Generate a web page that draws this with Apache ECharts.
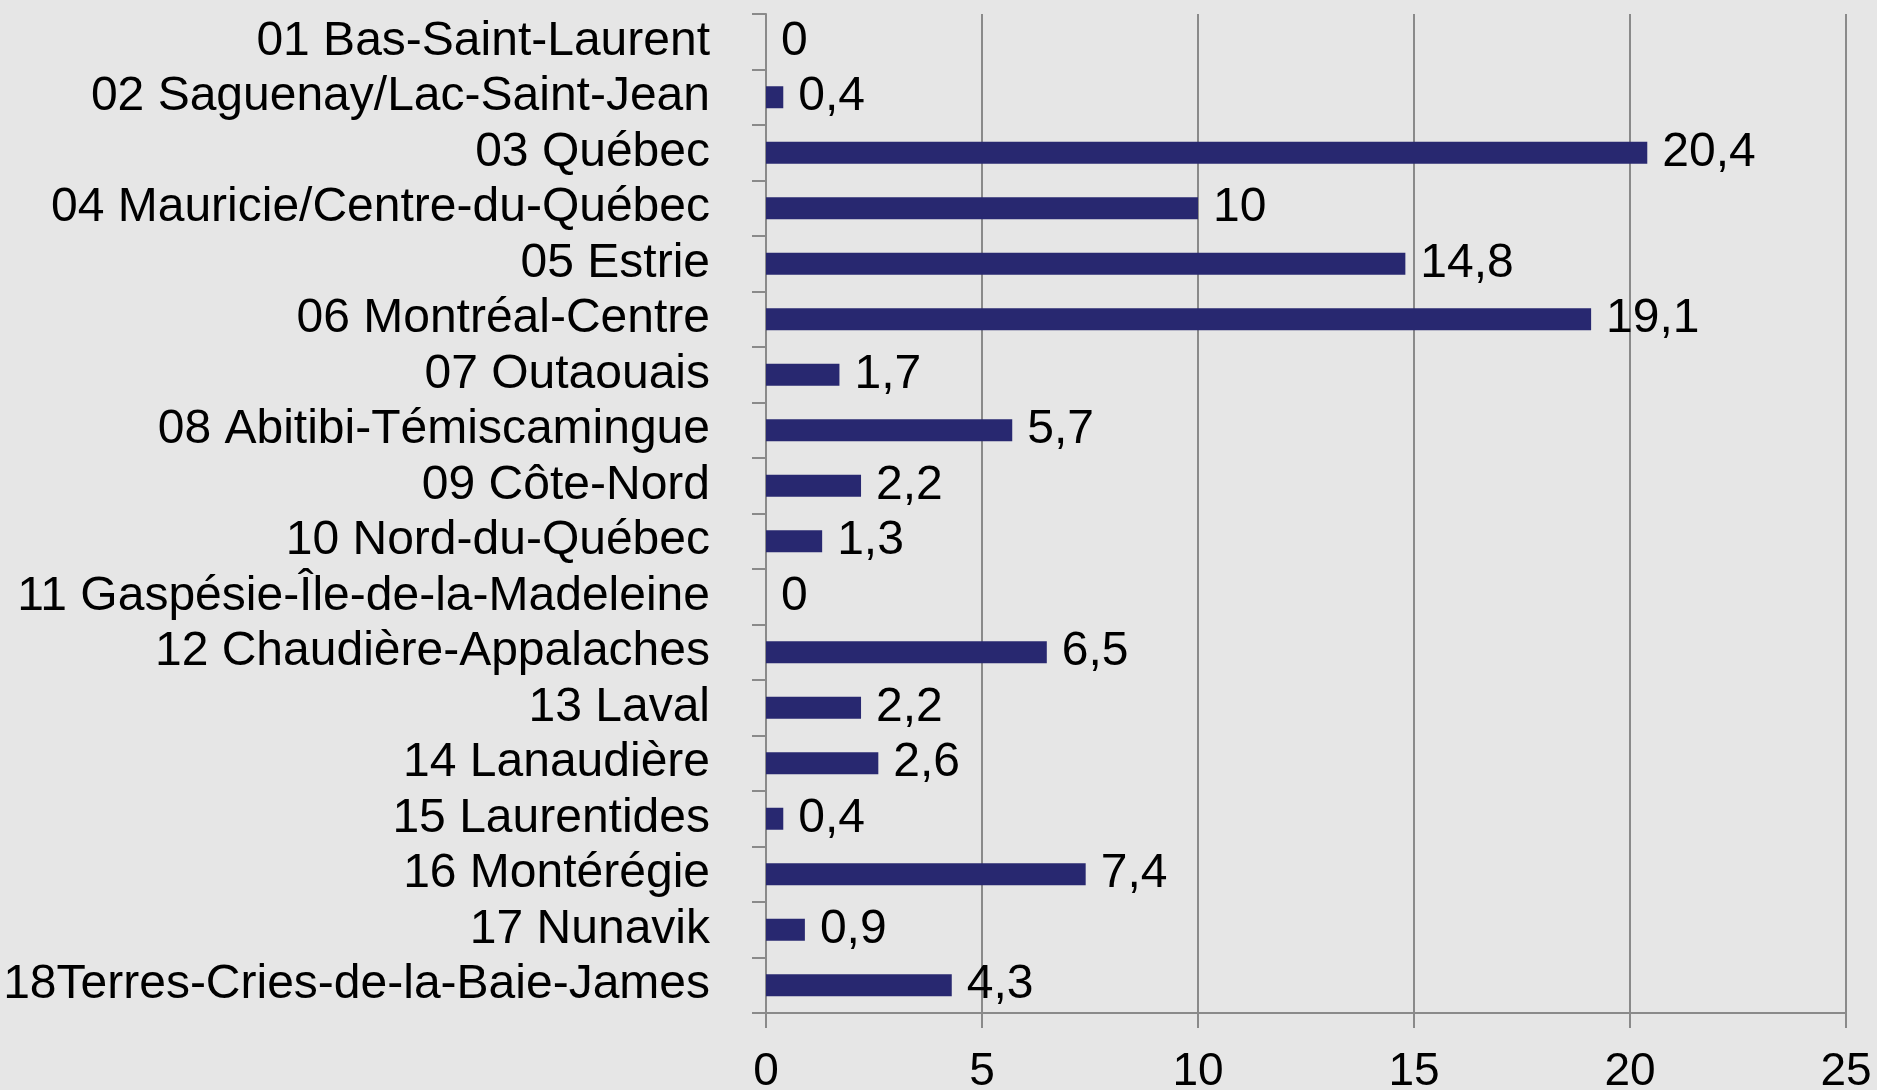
<!DOCTYPE html>
<html>
<head>
<meta charset="utf-8">
<script src="https://cdn.jsdelivr.net/npm/echarts@6/dist/echarts.min.js"></script>
<style>
  html, body { margin: 0; padding: 0; background: #e6e6e6; }
  #chart { width: 1877px; height: 1090px; }
</style>
</head>
<body>
<div id="chart"></div>
<script>
  // regions, top to bottom
  var regions = [
    '01 Bas-Saint-Laurent',
    '02 Saguenay/Lac-Saint-Jean',
    '03 Québec',
    '04 Mauricie/Centre-du-Québec',
    '05 Estrie',
    '06 Montréal-Centre',
    '07 Outaouais',
    '08 Abitibi-Témiscamingue',
    '09 Côte-Nord',
    '10 Nord-du-Québec',
    '11 Gaspésie-Île-de-la-Madeleine',
    '12 Chaudière-Appalaches',
    '13 Laval',
    '14 Lanaudière',
    '15 Laurentides',
    '16 Montérégie',
    '17 Nunavik',
    '18Terres-Cries-de-la-Baie-James'
  ];
  var values = [0, 0.4, 20.4, 10, 14.8, 19.1, 1.7, 5.7, 2.2, 1.3, 0, 6.5, 2.2, 2.6, 0.4, 7.4, 0.9, 4.3];
  var xTicks = [0, 5, 10, 15, 20, 25];

  var font = 'Liberation Sans, Arial, sans-serif';
  var gray = '#8a8a8a';

  var chart = echarts.init(document.getElementById('chart'));
  var option = {
    backgroundColor: '#e6e6e6',
    animation: false,
    grid: {
      left: 766,
      right: 31,
      top: 14,
      bottom: 77,
      outerBoundsMode: 'none'
    },
    xAxis: {
      type: 'value',
      min: xTicks[0],
      max: xTicks[xTicks.length - 1],
      interval: 5,
      axisLine: { show: true, lineStyle: { color: gray, width: 2 } },
      axisTick: { show: true, length: 15, lineStyle: { color: gray, width: 2 } },
      splitLine: { show: true, lineStyle: { color: gray, width: 2 } },
      axisLabel: {
        fontFamily: font,
        fontSize: 46,
        color: '#000',
        margin: 36
      }
    },
    yAxis: {
      type: 'category',
      inverse: true,
      data: regions,
      axisLine: { show: true, lineStyle: { color: gray, width: 2 } },
      axisTick: { show: true, interval: 0, length: 14, lineStyle: { color: gray, width: 2 } },
      axisLabel: {
        interval: 0,
        fontFamily: font,
        fontSize: 48,
        color: '#000',
        margin: 56
      }
    },
    series: [{
      type: 'bar',
      data: values,
      barWidth: 22,
      itemStyle: { color: '#282870' },
      label: {
        show: true,
        position: 'right',
        distance: 15,
        fontFamily: font,
        fontSize: 48,
        color: '#000',
        formatter: function (p) { return String(p.value).replace('.', ','); }
      }
    }]
  };
  chart.setOption(option);
</script>
</body>
</html>
